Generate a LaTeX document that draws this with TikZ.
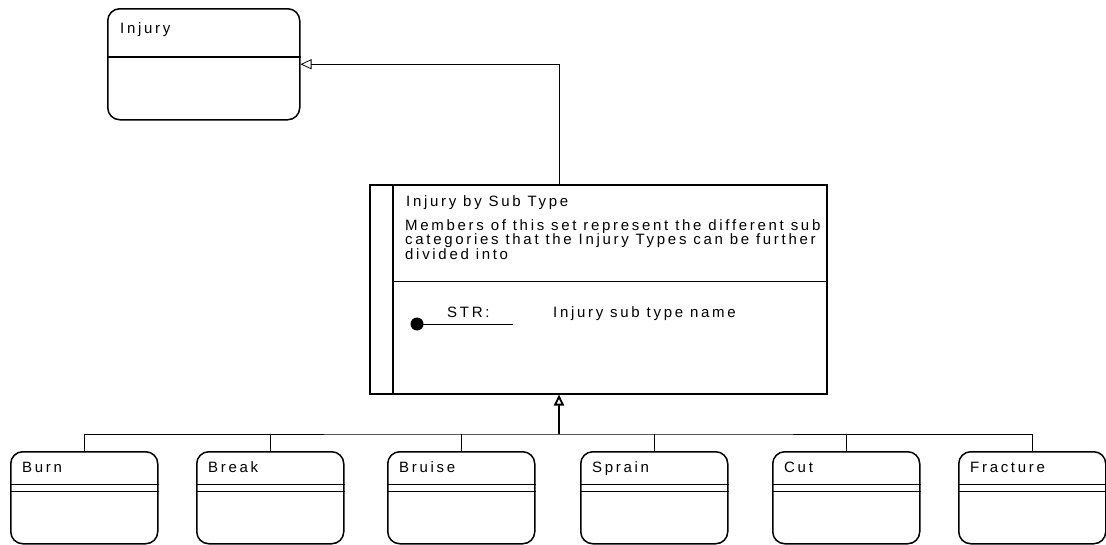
\documentclass[tikz,border=0pt]{standalone}
\usepackage{fontspec}
\setmainfont{Liberation Sans}[LetterSpace=18]
\usetikzlibrary{arrows.meta,calc}
\begin{document}
\begin{tikzpicture}[x=1pt,y=-1pt,
  every node/.style={font=\fontsize{15}{14.5}\selectfont},
  classbox/.style={draw, line width=1.5pt, rounded corners=12pt, inner sep=0pt,
    anchor=north west, minimum width=147pt, minimum height=92pt},
  setbox/.style={draw, line width=1.5pt, inner sep=0pt, anchor=north west,
    minimum width=457pt, minimum height=209pt},
  label/.style={anchor=base west, inner sep=0pt},
  conn/.style={line width=0.8pt},
  divider/.style={line width=1pt},
  gen/.style={-{Triangle[open, length=11pt, width=10pt]}},
]
\useasboundingbox (0,0) rectangle (1106,544);

% supertype
\node[classbox, minimum width=192pt, minimum height=111pt] (injury) at (107,8) {};
\node[label] (injuryname) at (120,33) {Injury};
\draw[line width=1.5pt] ($(injury.north west)+(0,49)$) -- ($(injury.north east)+(0,49)$);

% subtype set
\node[setbox] (subtype) at (369,184) {};
\draw[line width=2pt] ($(subtype.north west)+(24,0)$) -- ($(subtype.south west)+(24,0)$);
\draw[divider] ($(subtype.north west)+(24,97)$) -- ($(subtype.north east)+(0,97)$);
\node[label] (subname) at (406,206) {Injury by Sub Type};
% base anchor of a multi-line node sits on its last line
\node[label, align=left] (subdesc) at (405,259)
  {Members of this set represent the different sub\\
   categories that the Injury Types can be further\\
   divided into};
\coordinate (keydot) at (417,324);
\coordinate (keyend) at (513,324);
\fill (keydot) circle (6.5);
\draw[conn] (keydot) -- (keyend);
\node[label] (strtype) at (447,317) {STR:};
\node[label] (strname) at (553,317) {Injury sub type name};

% leaf classes
\foreach \nm/\x/\txt in {burn/10/Burn, break/196/Break, bruise/387/Bruise,
                         sprain/580/Sprain, cut/772/Cut, fracture/958/Fracture}{
  \node[classbox] (\nm) at (\x,451) {};
  \node[label] (\nm-name) at (\x+12,472) {\txt};
  \draw[divider] ($(\nm.north west)+(0,33)$) -- ($(\nm.north east)+(0,33)$);
  \draw[divider] ($(\nm.north west)+(0,40)$) -- ($(\nm.north east)+(0,40)$);
}

% generalisation connectors
\coordinate (top) at ($(subtype.north west)+(190,0)$);
\draw[conn, gen] (top) |- (injury.east);

\coordinate (bus) at (559,434);
\draw[conn] (burn.north) |- (bus) -| (fracture.north);
\foreach \nm in {break, bruise, sprain, cut}
  \draw[conn] (\nm.north) -- (\nm.north |- bus);
\draw[line width=1.8pt, gen] (bus) -- (bus |- subtype.south);
\end{tikzpicture}
\end{document}
